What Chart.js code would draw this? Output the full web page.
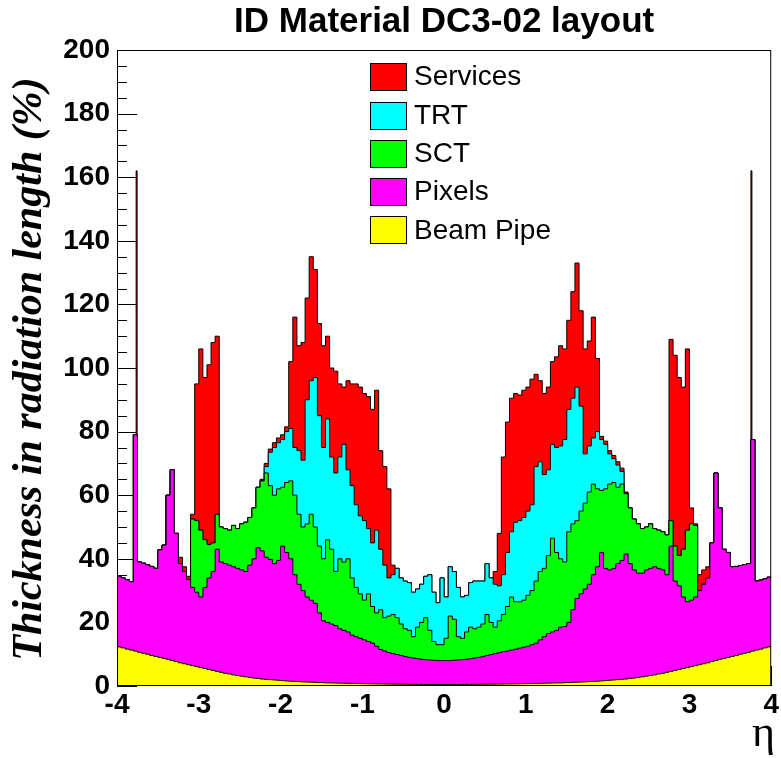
<!DOCTYPE html>
<html>
<head>
<meta charset="utf-8">
<title>ID Material DC3-02 layout</title>
<script src="https://cdn.jsdelivr.net/npm/chart.js@4.4.1/dist/chart.umd.min.js"></script>
<style>
  html, body { margin: 0; padding: 0; background: #fff; }
  #wrap { width: 781px; height: 758px; }
</style>
</head>
<body>
<div id="wrap"><canvas id="chart" width="781" height="758"></canvas></div>
<script>
// Histogram binning in pseudorapidity
const ETA_MIN = -4;
const ETA_MAX = 4;
const BIN_WIDTH = 0.05;

// Cumulative thickness in radiation length (%) at the top of each stacked layer,
// one value per 0.05 bin from eta = -4 to eta = +4 (160 bins).
const beamPipe = [
  12.3, 12.0, 11.6, 11.3, 11.0, 10.6, 10.3, 10.0, 9.6, 9.3,
  9.0, 8.7, 8.4, 8.0, 7.7, 7.3, 7.0, 6.7, 6.4, 6.1,
  5.8, 5.5, 5.2, 4.9, 4.6, 4.3, 4.0, 3.8, 3.5, 3.3,
  3.1, 2.9, 2.7, 2.5, 2.4, 2.2, 2.1, 2.0, 1.9, 1.8,
  1.7, 1.6, 1.5, 1.45, 1.4, 1.3, 1.25, 1.2, 1.15, 1.1,
  1.05, 1.0, 0.97, 0.94, 0.9, 0.87, 0.84, 0.81, 0.78, 0.75,
  0.72, 0.7, 0.68, 0.66, 0.64, 0.62, 0.6, 0.58, 0.57, 0.56,
  0.55, 0.54, 0.53, 0.52, 0.51, 0.5, 0.5, 0.5, 0.5, 0.5,
  0.5, 0.5, 0.5, 0.5, 0.5, 0.51, 0.52, 0.53, 0.54, 0.55,
  0.56, 0.57, 0.58, 0.6, 0.62, 0.64, 0.66, 0.68, 0.7, 0.72,
  0.75, 0.78, 0.81, 0.84, 0.87, 0.9, 0.94, 0.97, 1.0, 1.05,
  1.1, 1.15, 1.2, 1.25, 1.3, 1.4, 1.45, 1.5, 1.6, 1.7,
  1.8, 1.9, 2.0, 2.1, 2.2, 2.4, 2.5, 2.7, 2.9, 3.1,
  3.3, 3.5, 3.8, 4.0, 4.3, 4.6, 4.9, 5.2, 5.5, 5.8,
  6.1, 6.4, 6.7, 7.0, 7.3, 7.7, 8.0, 8.4, 8.7, 9.0,
  9.3, 9.6, 10.0, 10.3, 10.6, 11.0, 11.3, 11.6, 12.0, 12.3
];

const pixelsTop = [
  34.5, 34.0, 33.4, 32.8, 79, 39.0, 38.6, 38.1, 37.6, 37.0,
  42.8, 44.3, 60, 68, 48, 38.5, 36, 33.5, 31, 29.5,
  28, 31, 34, 36, 43, 39, 38.5, 38, 37.5, 37,
  36.5, 36, 38, 40, 43.5, 42.5, 40.5, 39.8, 38.5, 39.5,
  44, 42, 40, 35, 32, 30, 28, 27, 26, 23,
  20.5, 20, 19.5, 19, 18, 17.5, 17, 16, 15.5, 15,
  14.5, 14, 13.5, 12.5, 11.5, 11, 10.5, 10.2, 9.9, 9.6,
  9.3, 9.0, 8.8, 8.6, 8.4, 8.3, 8.2, 8.1, 8.0, 8.0,
  8.0, 8.0, 8.1, 8.2, 8.3, 8.4, 8.6, 8.8, 9.0, 9.3,
  9.6, 9.9, 10.2, 10.5, 10.8, 11.0, 11.3, 11.6, 11.9, 12.2,
  12.5, 13, 13.5, 14.5, 15.5, 16.5, 17, 17.5, 18.5, 18.7,
  20, 24, 27.5, 29, 30.5, 32, 35, 37.5, 42, 37,
  36.5, 37, 38.5, 39.5, 41.5, 38.5, 36.5, 35.5, 35.5, 36.5,
  37, 37.5, 37, 36.5, 35, 44, 33, 31.5, 28, 26.5,
  27, 28, 30, 32, 34, 45, 67, 56, 43, 42,
  37.5, 37.6, 37.9, 38.2, 38.5, 77.5, 33.0, 33.3, 33.7, 34.2
];

const sctTop = [
  34.5, 34.0, 33.4, 32.8, 79, 39.0, 38.6, 38.1, 37.6, 37.0,
  42.8, 44.3, 60, 68, 48, 38.5, 36, 33.5, 52.5, 52,
  49, 46, 44.5, 45, 54, 50, 49.5, 49, 50.5, 49.5,
  51, 51.5, 53, 56, 62.5, 64.5, 67, 63, 60, 62,
  62.5, 64, 64.5, 60, 54, 50, 51, 54, 50, 44,
  40, 46, 43, 36, 40, 39, 40, 34, 31, 29,
  27, 29, 25, 23, 24, 21.5, 22, 22.5, 21.5, 19.5,
  18, 17.5, 15.5, 18.5, 20, 21.5, 17.5, 14, 13, 13,
  15, 22, 21, 15.5, 15, 17, 18.5, 18, 18.5, 19.5,
  22.5, 20, 18.5, 20.5, 22.5, 25, 28, 26.5, 26.5, 27,
  28.5, 30, 33, 36, 37, 41, 46.5, 42, 40, 39,
  48.5, 51, 52, 55, 57.5, 61, 63.5, 62, 61.5, 62,
  63.5, 64, 62.5, 63.5, 60.5, 56, 52.5, 51, 49.5, 50,
  51, 49.5, 49, 48.5, 47.5, 52, 44, 41, 43, 49,
  51, 50.5, 30, 32, 34, 45, 67, 56, 43, 42,
  37.5, 37.6, 37.9, 38.2, 38.5, 77.5, 33.0, 33.3, 33.7, 34.2
];

const trtTop = [
  34.5, 34.0, 33.4, 32.8, 79, 39.0, 38.6, 38.1, 37.6, 37.0,
  42.8, 44.3, 60, 68, 48, 38.5, 36, 33.5, 52.5, 52,
  49, 46, 44.5, 45, 54, 50, 49.5, 49, 50.5, 49.5,
  51, 51.5, 53, 56, 62.5, 64.5, 69, 73.5, 75, 76.5,
  77.5, 80, 81, 75, 74, 71, 90, 96, 97, 85,
  75, 84, 72, 67, 72, 76, 68, 63, 57, 53.5,
  52, 49.5, 45, 49, 43, 38, 34, 35, 37, 34,
  33, 32.5, 29.5, 30.5, 32, 34.5, 35, 29.5, 26.2, 34,
  28, 37.5, 36, 31, 28, 28.5, 32.5, 33, 33, 33,
  38.5, 34, 32, 31.5, 35, 42, 48.5, 51.5, 52, 53,
  55, 57, 69, 70.5, 66.5, 68, 76, 75, 75.5, 77.5,
  87, 90.5, 94, 88, 73, 75.5, 78, 80, 77.5, 76,
  73, 71.5, 69.5, 67.5, 60.5, 56, 52.5, 51, 49.5, 50,
  51, 49.5, 49, 48.5, 47.5, 52, 44, 41, 43, 49,
  51, 50.5, 30, 32, 34, 45, 67, 56, 43, 42,
  37.5, 37.6, 37.9, 38.2, 38.5, 77.5, 33.0, 33.3, 33.7, 34.2
];

const servicesTop = [
  34.5, 34.0, 33.4, 32.8, 79, 39.0, 38.6, 38.1, 37.6, 37.0,
  42.8, 44.3, 60, 68, 48, 40.5, 37.5, 34.5, 54, 95,
  106, 97, 101, 108, 110, 50, 49.5, 49, 50.5, 49.5,
  51, 51.5, 53, 56, 62.5, 65, 70, 74.5, 76.5, 78,
  79, 81.5, 102, 116, 107, 108, 122, 135, 131, 114,
  107, 110, 100, 99, 95, 94, 96, 95, 95, 94,
  92, 91, 87, 93, 74, 69, 62, 38, 37, 34,
  33, 32.5, 29.5, 30.5, 32, 34.5, 35, 29.5, 26.2, 34,
  28, 37.5, 36, 31, 28, 28.5, 32.5, 33, 33, 33,
  38.5, 34, 36, 48, 72, 83, 90.5, 92, 91.5, 93,
  94, 96.5, 98, 96, 92, 94, 102, 103.5, 107, 106,
  115, 124, 133, 118, 106, 108.5, 116, 103, 78.5, 77,
  74, 72.5, 70.5, 68.5, 61, 56, 52.5, 51, 49.5, 50,
  51, 49.5, 49, 48.5, 47.5, 109, 104, 97, 94, 106,
  56, 51, 35, 36.5, 37.5, 45, 67, 56, 43, 42,
  37.5, 37.6, 37.9, 38.2, 38.5, 77.5, 33.0, 33.3, 33.7, 34.2
];

// Very narrow services peaks near |eta| = 3.76 (finer than one 0.05 bin):
// lower edge, upper edge and cumulative top of each sub-bin
const narrowPeakLow = [-3.766, 3.752];
const narrowPeakHigh = [-3.754, 3.764];
const narrowPeakTop = [162, 162];

// Stack order (bottom to top), legend names and fill colours
const layerNames = ['Beam Pipe', 'Pixels', 'SCT', 'TRT', 'Services'];
const layerColors = ['#ffff00', '#ff00ff', '#00ff00', '#00ffff', '#ff0000'];
const layerValues = [beamPipe, pixelsTop, sctTop, trtTop, servicesTop];
const SERVICES = 4;

// Axis ranges and tick spacing
const Y_MAX = 200;
const Y_MAJOR = 20;
const Y_MINOR = 5;
const X_MAJOR = 1;
const X_MINOR = 0.2;

const TITLE = 'ID Material DC3-02 layout';
const Y_TITLE = 'Thickness in radiation length (%)';
const X_TITLE = '\u03B7';

const SANS = '"Liberation Sans", Arial, Helvetica, sans-serif';
const SERIF = '"Liberation Serif", "Times New Roman", serif';

const N_BINS = beamPipe.length;
const binOf = eta => Math.min(N_BINS - 1, Math.floor((eta - ETA_MIN) / BIN_WIDTH + 1e-9));

// Shared list of step edges for every layer: regular bin edges plus the narrow sub-bins
const stepEdges = (() => {
  const edges = [];
  for (let i = 0; i < N_BINS; i++) edges.push({ x: ETA_MIN + i * BIN_WIDTH, bin: i, peak: -1 });
  narrowPeakLow.forEach((lo, j) => {
    edges.push({ x: lo, bin: binOf(lo), peak: j });
    edges.push({ x: narrowPeakHigh[j], bin: binOf(lo), peak: -1 });
  });
  return edges.sort((a, b) => a.x - b.x);
})();

// Each point opens a step at its lower edge; the last one closes the histogram at ETA_MAX
function layerPoints(k) {
  const vals = layerValues[k];
  const pts = stepEdges.map(e => ({
    x: e.x,
    y: (k === SERVICES && e.peak >= 0) ? narrowPeakTop[e.peak] : vals[e.bin]
  }));
  pts.push({ x: ETA_MAX, y: vals[N_BINS - 1] });
  return pts;
}

const datasets = layerValues.map((vals, k) => ({
  label: layerNames[k],
  data: layerPoints(k),
  stepped: 'before',   // hold each value from its own edge up to the next edge
  backgroundColor: layerColors[k],
  borderColor: '#000',
  borderWidth: 1,
  pointRadius: 0,
  pointHoverRadius: 0,
  fill: k === 0 ? 'origin' : '-1'
}));

// Frame, inward ticks, title, axis titles and the in-frame legend
const rootStyle = {
  id: 'rootStyle',
  beforeDatasetsDraw(chart) {
    const { ctx, chartArea: a, scales: { x, y } } = chart;
    ctx.save();
    ctx.strokeStyle = '#000';
    ctx.lineWidth = 1;
    ctx.beginPath();
    for (let v = 0; v <= Y_MAX + 1e-9; v += Y_MINOR) {
      const py = Math.round(y.getPixelForValue(v)) + 0.5;
      const len = Math.abs(v % Y_MAJOR) < 1e-9 ? 20 : 10;
      ctx.moveTo(a.left, py);
      ctx.lineTo(a.left + len, py);
    }
    const nx = Math.round((ETA_MAX - ETA_MIN) / X_MINOR);
    const per = Math.round(X_MAJOR / X_MINOR);
    for (let k = 0; k <= nx; k++) {
      const px = Math.round(x.getPixelForValue(ETA_MIN + k * X_MINOR)) + 0.5;
      const len = k % per === 0 ? 20 : 10;
      ctx.moveTo(px, a.bottom);
      ctx.lineTo(px, a.bottom - len);
    }
    ctx.stroke();
    ctx.restore();
  },
  afterDatasetsDraw(chart) {
    const { ctx, chartArea: a } = chart;
    ctx.save();
    ctx.strokeStyle = '#000';
    ctx.lineWidth = 1;
    ctx.strokeRect(a.left + 0.5, a.top + 0.5, a.right - a.left - 1, a.bottom - a.top - 1);
    ctx.restore();
  },
  afterDraw(chart) {
    const { ctx, chartArea: a } = chart;
    ctx.save();
    ctx.fillStyle = '#000';

    // title
    ctx.font = 'bold 35px ' + SANS;
    ctx.textAlign = 'center';
    ctx.textBaseline = 'alphabetic';
    ctx.fillText(TITLE, (a.left + a.right) / 2, 32);

    // y-axis title, rotated
    ctx.save();
    ctx.translate(41, 369);
    ctx.rotate(-Math.PI / 2);
    ctx.font = 'italic bold 42px ' + SERIF;
    ctx.textAlign = 'center';
    ctx.fillText(Y_TITLE, 0, 0);
    ctx.restore();

    // x-axis title
    ctx.font = '44px ' + SERIF;
    ctx.textAlign = 'right';
    ctx.fillText(X_TITLE, 775, 746);

    // legend (top entry first)
    const boxX = 370, boxW = 36, boxH = 27, rowH = 38.3, firstY = 76.7;
    ctx.font = '28px ' + SANS;
    ctx.textAlign = 'left';
    ctx.textBaseline = 'middle';
    for (let r = 0; r < layerNames.length; r++) {
      const k = layerNames.length - 1 - r;
      const cy = firstY + r * rowH;
      const top = Math.round(cy - boxH / 2) + 0.5;
      ctx.fillStyle = layerColors[k];
      ctx.fillRect(boxX + 0.5, top, boxW, boxH);
      ctx.strokeStyle = '#000';
      ctx.lineWidth = 1;
      ctx.strokeRect(boxX + 0.5, top, boxW, boxH);
      ctx.fillStyle = '#000';
      ctx.fillText(layerNames[k], 414, cy + 1);
    }
    ctx.restore();
  }
};

new Chart(document.getElementById('chart'), {
  type: 'line',
  data: { datasets },
  plugins: [rootStyle],
  options: {
    responsive: false,
    animation: false,
    devicePixelRatio: 1,
    events: [],
    layout: { padding: { left: 0, top: 50, right: 9, bottom: 0 } },
    plugins: {
      legend: { display: false },
      title: { display: false },
      tooltip: { enabled: false }
    },
    elements: { line: { tension: 0 } },
    scales: {
      x: {
        type: 'linear',
        min: ETA_MIN,
        max: ETA_MAX,
        grid: { display: false, drawTicks: false },
        border: { display: false },
        ticks: {
          stepSize: X_MAJOR,
          autoSkip: false,
          maxRotation: 0,
          padding: 2,
          color: '#000',
          font: { family: SANS, size: 28, weight: 'bold' }
        },
        afterFit(scale) { scale.height = 72; }
      },
      y: {
        type: 'linear',
        min: 0,
        max: Y_MAX,
        grid: { display: false, drawTicks: false },
        border: { display: false },
        ticks: {
          stepSize: Y_MAJOR,
          padding: 7,
          color: '#000',
          font: { family: SANS, size: 28, weight: 'bold' }
        },
        afterFit(scale) { scale.width = 117; }
      }
    }
  }
});
</script>
</body>
</html>
